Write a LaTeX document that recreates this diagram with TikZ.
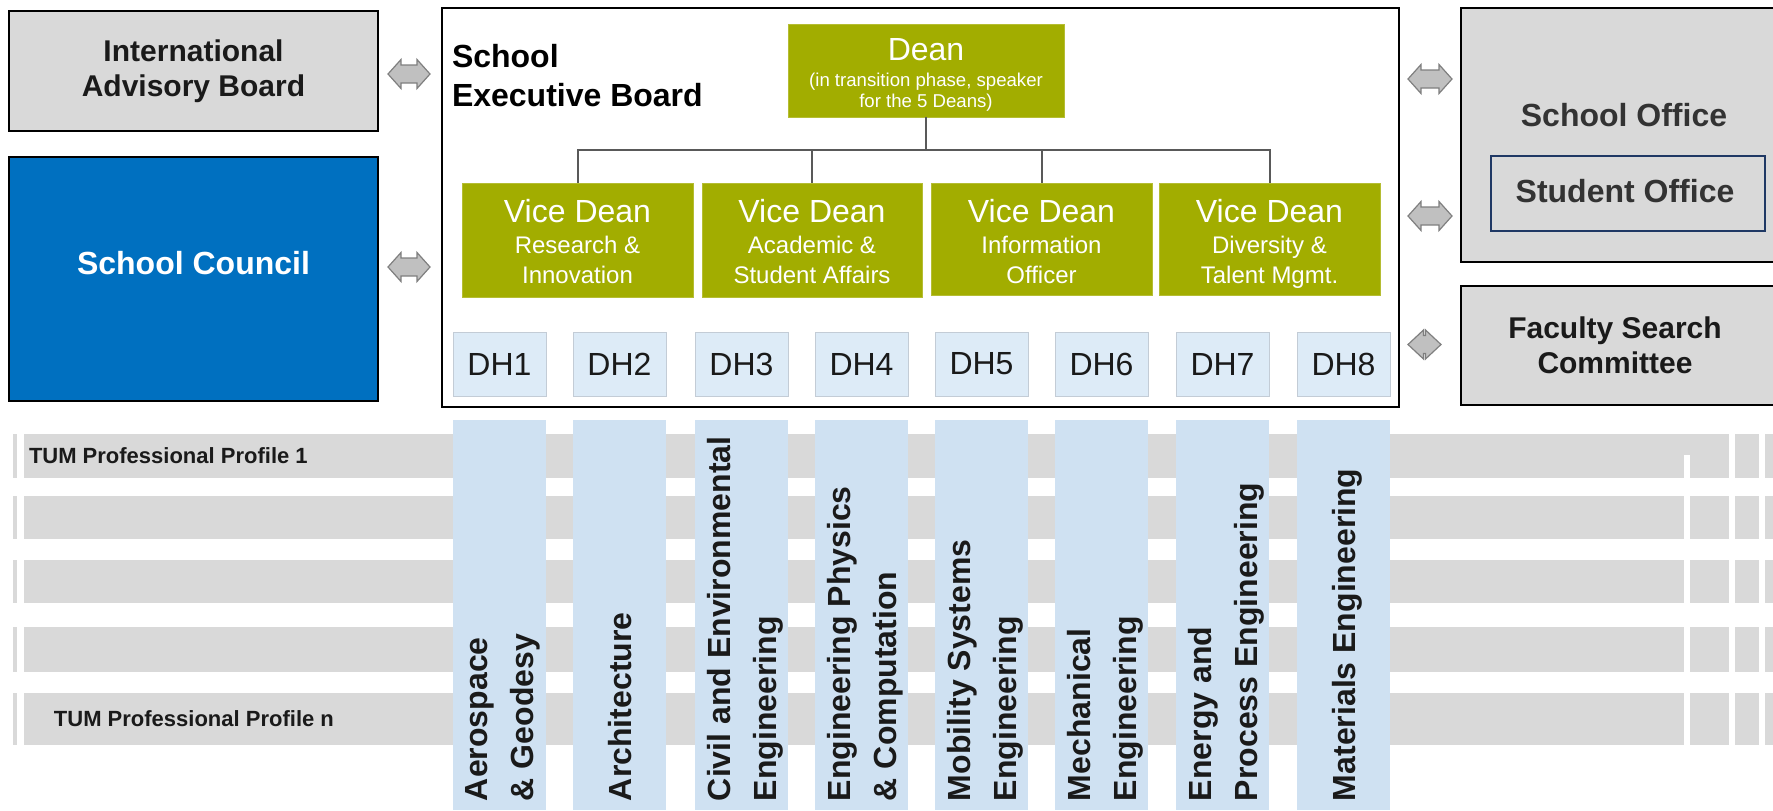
\documentclass[tikz,border=0pt]{standalone}
\usepackage{fontspec}
\setmainfont{Liberation Sans}
\usetikzlibrary{fit,calc}
\definecolor{boxgray}{HTML}{D9D9D9}
\definecolor{tumblue}{HTML}{0070C0}
\definecolor{olive}{HTML}{A2AD00}
\definecolor{dhfill}{HTML}{DDEBF7}
\definecolor{dhline}{HTML}{C3CCD6}
\definecolor{colfill}{HTML}{CFE1F2}
\definecolor{stripegray}{HTML}{D9D9D9}
\definecolor{navy}{HTML}{1F3864}
\definecolor{arrfill}{HTML}{C0C0C0}
\definecolor{arrline}{HTML}{7F7F7F}
\definecolor{connline}{HTML}{595959}
\definecolor{darktext}{HTML}{1A1A1A}
\definecolor{officetext}{HTML}{333333}
\newcommand{\fsz}[2]{\fontsize{#1}{#2}\selectfont}
\tikzset{
  dblarr/.pic={\path[fill=arrfill, draw=arrline, line width=0.6pt]
    (-#1,0) -- (-#1+13,-14.5) -- (-#1+13,-9) -- (#1-13,-9) -- (#1-13,-14.5) -- (#1,0)
    -- (#1-13,14.5) -- (#1-13,9) -- (-#1+13,9) -- (-#1+13,14.5) -- cycle;},
  diamarr/.pic={\path[fill=arrfill, draw=arrline, line width=0.6pt]
    (-16.5,0) -- (-1,-14.5) -- (-1,-9) -- (1,-9) -- (1,-14.5) -- (16.5,0)
    -- (1,14.5) -- (1,9) -- (-1,9) -- (-1,14.5) -- cycle;}
}
\begin{document}
\begin{tikzpicture}[x=0.5pt,y=-0.5pt,
  base/.style={inner sep=0pt, outer sep=0pt},
  graybox/.style={base, fill=boxgray, draw=black, line width=1.3pt},
  bluebox/.style={base, fill=tumblue, draw=black, line width=1.3pt},
  sebbox/.style={base, fill=white, draw=black, line width=1.2pt},
  greenbox/.style={base, fill=olive, draw=olive!80!white, line width=0.4pt},
  dhbox/.style={base, fill=dhfill, draw=dhline, line width=0.5pt},
  dhtext/.style={base, text=darktext, font=\fsz{16}{19}},
  colbox/.style={base, fill=colfill},
  stripebox/.style={base, fill=stripegray},
  stuoffice/.style={base, draw=navy, line width=1.2pt},
  boxtext/.style={base, align=center, text=darktext, font=\bfseries\fsz{15}{17.5}},
  greentitle/.style={base, anchor=north, align=center, text=white},
  coltext/.style={base, rotate=90, anchor=west, align=left, text depth=0pt, text=darktext, font=\bfseries\fsz{16}{23}},
  proflabel/.style={base, anchor=west, text=darktext, font=\bfseries\fsz{11}{13}},
  conn/.style={draw=connline, line width=1pt}
]
\useasboundingbox (0,0) rectangle (1773,810);
\clip (0,0) rectangle (1773,810);

% professional profile stripes
\foreach \i/\a/\b in {1/434/478,2/496/539,3/560/603,4/627/672,5/693/745}
  \node[stripebox, fit={(13,\a) (1773,\b)}] (s\i) {};
\fill[white] (17,417) rectangle (24,770);
\fill[white] (1684,455) rectangle (1690,810);
\fill[white] (1729,412) rectangle (1735,810);
\fill[white] (1759,417) rectangle (1765,810);
\node[proflabel] (p1) at ([xshift=8pt]s1.west) {TUM Professional Profile 1};
\node[proflabel] (pn) at ([xshift=20.5pt]s5.west) {TUM Professional Profile n};

% department columns
\foreach \i/\x in {1/453,2/573,3/695,4/815,5/935,6/1055,7/1176,8/1297}
  \node[colbox, fit={(\x,420) (\x+93,810)}] (c\i) {};
\node[coltext] (t1) at (c1.center |- 0,801) {Aerospace\\\& Geodesy};
\node[coltext] (t2) at (c2.center |- 0,801) {Architecture};
\node[coltext] (t3) at (c3.center |- 0,801) {Civil and Environmental\\Engineering};
\node[coltext] (t4) at (c4.center |- 0,801) {Engineering Physics\\\& Computation};
\node[coltext] (t5) at (c5.center |- 0,801) {Mobility Systems\\Engineering};
\node[coltext] (t6) at (c6.center |- 0,801) {Mechanical\\Engineering};
\node[coltext] (t7) at (c7.center |- 0,801) {Energy and\\Process Engineering};
\node[coltext] (t8) at (c8.center |- 0,801) {Materials Engineering};

% left boxes
\node[graybox, fit={(9,11) (378,131)}] (iab) {};
\node[boxtext] (iabt) at (iab.center) {International\\Advisory Board};
\node[bluebox, fit={(9,157) (378,401)}] (sc) {};
\node[base, text=white, font=\bfseries\fsz{16}{19}] (sct) at (193.5,263) {School Council};

% school executive board
\node[sebbox, fit={(442,8) (1399,407)}] (seb) {};
\node[base, anchor=north west, align=left, text=black, font=\bfseries\fsz{16}{19.5}] (sebt) at (452,44) {School\\Executive Board};

\node[greenbox, fit={(788,24) (1064,117)}] (dean) {};
\node[greentitle, font=\fsz{9.3}{10.5}] (deant) at (dean.center |- 0,38)
  {{\fsz{16}{16}Dean}\\[2.5pt](in transition phase, speaker\\for the 5 Deans)};

\node[greenbox, fit={(462,183) (693,297)}] (vd1) {};
\node[greenbox, fit={(702,183) (922,297)}] (vd2) {};
\node[greenbox, fit={(931,183) (1152,295)}] (vd3) {};
\node[greenbox, fit={(1159,183) (1380,295)}] (vd4) {};
\node[greentitle, font=\fsz{12}{15}] (vd1t) at (vd1.center |- 0,199) {{\fsz{16}{16}Vice Dean}\\[0.5pt]Research \&\\Innovation};
\node[greentitle, font=\fsz{12}{15}] (vd2t) at (vd2.center |- 0,199) {{\fsz{16}{16}Vice Dean}\\[0.5pt]Academic \&\\Student Affairs};
\node[greentitle, font=\fsz{12}{15}] (vd3t) at (vd3.center |- 0,199) {{\fsz{16}{16}Vice Dean}\\[0.5pt]Information\\Officer};
\node[greentitle, font=\fsz{12}{15}] (vd4t) at (vd4.center |- 0,199) {{\fsz{16}{16}Vice Dean}\\[0.5pt]Diversity \&\\Talent Mgmt.};

\coordinate (bus) at (dean.south |- 0,150);
\foreach \v in {vd1,vd2,vd3,vd4}
  \draw[conn] (dean.south) -- (bus) -| (\v.north);

\foreach \i/\x in {1/453,2/573,3/695,4/815,5/935,6/1055,7/1176,8/1297}{
  \node[dhbox, fit={(\x,332) (\x+93,396)}] (dh\i) {};
  \node[dhtext] (dh\i t) at (dh\i.center) {DH\i};
}

% right boxes
\node[graybox, fit={(1461,8) (1790,262)}] (so) {};
\node[base, text=officetext, font=\bfseries\fsz{16}{19}] (sot) at (1624,115.5) {School Office};
\node[stuoffice, fit={(1491,156) (1765,231)}] (stu) {};
\node[base, text=officetext, font=\bfseries\fsz{16}{19}] (stut) at (1625,191.5) {Student Office};
\node[graybox, fit={(1461,286) (1790,405)}] (fsc) {};
\node[boxtext] (fsct) at (1615,345.5) {Faculty Search\\Committee};

% double arrows between the boxes
\coordinate (a1) at (409,74);
\coordinate (a2) at (409,267);
\coordinate (a3) at (1430,79);
\coordinate (a4) at (1430,216);
\coordinate (a5) at (1424.5,344.5);
\pic at (a1) {dblarr=21};
\pic at (a2) {dblarr=21};
\pic at (a3) {dblarr=22};
\pic at (a4) {dblarr=22};
\pic at (a5) {diamarr};
\end{tikzpicture}
\end{document}
